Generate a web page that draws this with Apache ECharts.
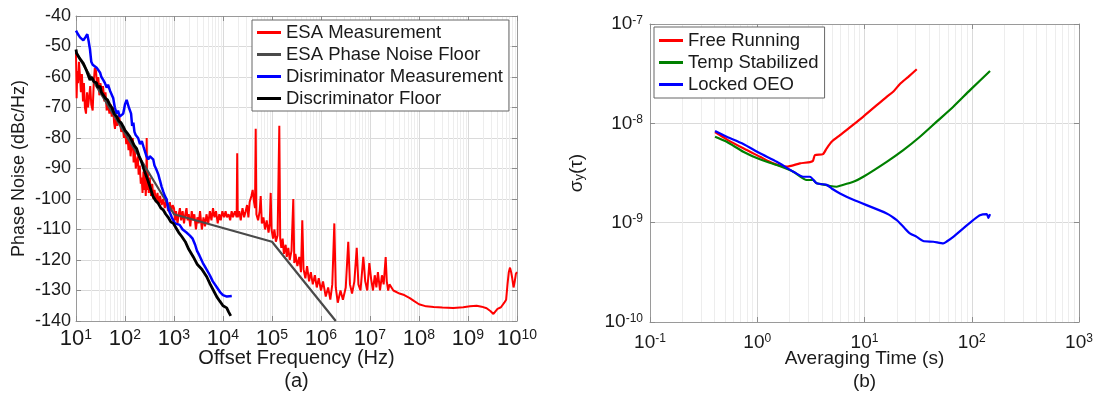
<!DOCTYPE html>
<html>
<head>
<meta charset="utf-8">
<script src="https://cdn.jsdelivr.net/npm/echarts@6/dist/echarts.min.js"></script>
<style>
  html, body { margin: 0; padding: 0; background: #fff; overflow: hidden; }
  #main { width: 1095px; height: 393px; }
</style>
</head>
<body>
<div id="main"></div>
<script>
// (a) phase noise, [offset frequency Hz, dBc/Hz]
const esaMeasurement = [
  [10,-52],[10.3,-67],[10.6,-58],[11,-62],[11.5,-55],[12.1,-60],[12.6,-65],[13.2,-59],[13.9,-68],[14.5,-62],
  [15.2,-70],[16,-72],[16.8,-65],[17.6,-70],[18.7,-66],[19.5,-63],[20.5,-69],[21.9,-71],[23,-62],[24.2,-57],
  [25.6,-58],[27,-63],[28.5,-60],[30,-66],[31.5,-62],[33.5,-65],[35.6,-63],[38,-68],[40,-65],[42.3,-71],
  [45,-68],[48,-72],[51,-69],[53.6,-73],[57,-70],[60,-75],[62.5,-77],[66,-73],[70,-76],[75,-72],
  [79,-75],[84,-78],[90,-76],[95,-80],[100,-77],[106,-82],[112,-79],[118,-84],[124,-80],[130,-86],
  [137,-82],[144,-80],[150,-88],[158,-84],[166,-90],[173,-88],[182,-86],[190,-92],[200,-89],[210,-95],
  [219,-93],[228,-98],[238,-91],[248,-97],[256,-92],[265,-99],[272,-95],[277,-80],[283,-97],[294,-91],
  [305,-98],[320,-93],[340,-99],[360,-95],[380,-100],[400,-97],[430,-101],[460,-98],[490,-102],[520,-99],
  [560,-102],[600,-100],[650,-103],[700,-100],[760,-104],[820,-101],[880,-104],[940,-102],
  [1000,-103],[1050,-107],[1100,-104],[1180,-108],[1250,-105],[1320,-103],[1400,-107],[1500,-104],[1600,-108],[1700,-105],
  [1800,-103],[1900,-107],[2000,-105],[2150,-109],[2300,-104],[2450,-107],[2600,-105],[2800,-110],[3000,-106],[3200,-108],
  [3400,-104],[3700,-110],[4000,-106],[4300,-109],[4600,-105],[5000,-108],[5400,-104],[5800,-107],[6250,-103],[6700,-106],
  [7200,-104],[7800,-108],[8400,-105],[9000,-107],[9700,-104],[1.05e4,-106],[1.13e4,-104],[1.2e4,-106],[1.3e4,-105],[1.4e4,-107],
  [1.5e4,-104],[1.6e4,-106],[1.75e4,-104],[1.9e4,-106],[1.95e4,-85],[2.0e4,-106],[2.15e4,-104],[2.3e4,-107],[2.5e4,-103],[2.7e4,-106],
  [2.9e4,-104],[3.1e4,-102],[3.3e4,-106],[3.5e4,-101],[3.8e4,-99],[4.03e4,-97],[4.3e4,-101],[4.5e4,-103],[4.65e4,-77],[4.8e4,-105],
  [5.2e4,-107],[5.6e4,-104],[5.88e4,-99],[6.2e4,-108],[6.7e4,-106],[7.2e4,-110],[7.8e4,-107],[8.5e4,-111],[9.0e4,-108],[9.4e4,-98],
  [9.8e4,-110],[1.05e5,-113],[1.12e5,-110],[1.2e5,-114],[1.3e5,-112],[1.41e5,-76],[1.47e5,-113],[1.55e5,-116],[1.65e5,-113],[1.75e5,-118],
  [1.9e5,-115],[2.0e5,-119],[2.15e5,-116],[2.3e5,-120],[2.5e5,-117],[2.72e5,-100],[2.85e5,-121],[3.0e5,-118],[3.3e5,-122],[3.6e5,-119],
  [3.9e5,-124],[4.15e5,-107],[4.4e5,-123],[4.8e5,-126],[5.2e5,-122],[5.7e5,-127],[6.2e5,-124],[6.8e5,-128],[7.5e5,-125],[8.2e5,-129],
  [9.0e5,-126],[1e6,-130],[1.1e6,-127],[1.25e6,-132],[1.4e6,-129],[1.55e6,-133],[1.7e6,-128],[1.87e6,-108],[2.0e6,-129],[2.2e6,-134],
  [2.5e6,-130],[2.8e6,-133],[3.2e6,-129],[3.6e6,-114],[3.9e6,-128],[4.3e6,-131],[4.8e6,-127],[5.36e6,-116],[5.8e6,-128],[6.4e6,-130],
  [7.3e6,-119],[8e6,-127],[8.8e6,-130],[9.7e6,-121],[1.05e7,-126],[1.15e7,-130],[1.25e7,-125],[1.35e7,-129],[1.45e7,-124],[1.6e7,-130],
  [1.75e7,-125],[1.9e7,-128],[2.09e7,-119],[2.2e7,-127],[2.35e7,-130],[2.5e7,-128],[3e7,-130],[4e7,-131],[5e7,-131.5],[6.5e7,-132.5],
  [8e7,-133.5],[1e8,-134.5],[1.4e8,-135.2],[2e8,-135.4],[3e8,-135.6],[5e8,-135.7],[8e8,-135.5],[1.1e9,-135.2],[1.5e9,-135],[1.9e9,-135.3],
  [2.4e9,-135.8],[2.9e9,-136.8],[3.3e9,-137.7],[3.6e9,-138],[4e9,-136],[4.7e9,-135.5],[5.5e9,-134],[6e9,-133],[6.4e9,-128],[6.8e9,-124],
  [7.2e9,-122.5],[7.6e9,-124],[8e9,-126],[8.5e9,-129],[9e9,-127],[9.5e9,-124.5],[1e10,-124]
];
const esaFloor = [[10,-52],[1000,-105],[1e5,-114],[2e6,-140]];
const discMeasurement = [
  [10,-44.8],[11,-46],[12.1,-47],[13,-47.5],[14.1,-48],[15.5,-47],[17,-46],[18,-48],[19.3,-51],[20.5,-55],
  [21.9,-56],[24,-56],[26.4,-57],[28.5,-57.5],[30.9,-58.5],[33,-60],[36.1,-61],[39,-62],[42.3,-63.5],[45,-62.5],
  [49.4,-64.5],[53,-65],[57.6,-67],[62,-70],[67.7,-72],[72,-71],[78,-73],[85.2,-73.5],[92,-72],[100,-69],
  [108,-67.5],[115,-68],[120,-70],[126,-70],[133,-72],[140,-76],[148,-75],[156,-78],[165,-79],[173,-79],
  [185,-80],[202,-82],[220,-81],[240,-83],[256,-83],[275,-86],[298,-87],[320,-86],[345,-86.5],[376,-87],
  [400,-89],[441,-90.5],[480,-92],[518,-94],[560,-96],[604,-97.6],[650,-99],[704,-100],[760,-103],[828,-104.6],
  [900,-106],[970,-107],[1050,-108],[1150,-108],[1300,-108.5],[1500,-110],[1800,-111],[2110,-112],[2400,-113],[2700,-115],
  [2950,-117],[3300,-118.5],[3890,-121],[4400,-122.5],[5390,-125],[6200,-127],[7540,-129],[8700,-130.5],[1e4,-131.5],[1.2e4,-132],
  [1.51e4,-131.8]
];
const discFloor = [
  [10,-51],[10.3,-52.2],[11,-52.5],[12,-54],[13,-53.5],[14.1,-55.5],[15,-56],[16.5,-58],[17.5,-57.5],[19.3,-61],
  [21,-60],[23,-61.5],[26.4,-62],[28,-63.5],[31,-63],[33,-65],[36.1,-64.8],[40,-67],[44,-67.5],[49.4,-69.2],
  [54,-70],[60,-72],[67.7,-73],[75,-74.5],[83,-75],[92.3,-76.3],[100,-77.5],[112,-78.5],[126,-79.6],[140,-81],
  [155,-82.5],[173,-83.5],[195,-86],[219,-88],[240,-90],[265,-92],[295,-94],[324,-96],[370,-99],[420,-100.5],
  [480,-101.5],[540,-103],[604,-103.6],[680,-105],[760,-106],[860,-107.5],[968,-108],[1100,-109.5],[1250,-111],[1440,-112.3],
  [1700,-114],[2000,-116.5],[2480,-119],[3000,-121.5],[3700,-123],[4650,-125.5],[5500,-128],[6400,-130],[7430,-132],[8600,-133.5],
  [1e4,-135],[1.19e4,-135.7],[1.3e4,-137],[1.44e4,-138.3]
];

// (b) Allan deviation, [averaging time s, sigma_y]
const freeRunning = [
  [0.404,8.17e-9],[0.519,6.9e-9],[0.741,5.6e-9],[1.06,4.61e-9],[1.41,3.95e-9],[1.88,3.66e-9],[2.5,3.95e-9],[3.1,4.07e-9],
  [3.31,4.2e-9],[3.45,4.79e-9],[4.1,4.9e-9],[4.44,5.6e-9],[4.94,6.53e-9],[5.91,7.6e-9],[9.75,1.17e-8],[16.1,1.85e-8],
  [18.6,2.09e-8],[21.4,2.49e-8],[25.6,2.94e-8],[30.7,3.5e-8]
];
const tempStabilized = [
  [0.404,7.33e-9],[0.519,6.53e-9],[0.741,5.18e-9],[1.06,4.34e-9],[1.52,3.8e-9],[2.17,3.26e-9],[2.89,2.69e-9],[3.31,2.69e-9],
  [3.58,2.49e-9],[4.44,2.39e-9],[4.77,2.34e-9],[5.5,2.3e-9],[5.91,2.35e-9],[7.87,2.58e-9],[9.75,2.9e-9],[16.1,4.1e-9],
  [23,5.38e-9],[32.9,7.33e-9],[47.1,1.04e-8],[67.3,1.47e-8],[96.4,2.16e-8],[148,3.36e-8]
];
const lockedOEO = [
  [0.404,8.37e-9],[0.519,7.33e-9],[0.741,6.19e-9],[1.06,4.99e-9],[1.52,4.1e-9],[2.17,3.26e-9],[2.69,2.9e-9],[3.1,2.9e-9],
  [3.58,2.49e-9],[4.44,2.4e-9],[4.94,2.21e-9],[5.91,1.97e-9],[7.87,1.7e-9],[16.1,1.24e-9],[20,1.06e-9],[23,9.1e-10],
  [26.5,7.8e-10],[30.7,7.2e-10],[35.3,6.53e-10],[43.8,6.43e-10],[54.3,6.18e-10],[58.4,6.46e-10],[67.3,7.2e-10],[83.4,8.77e-10],
  [103,1.06e-9],[119,1.19e-9],[138,1.22e-9],[143,1.12e-9],[148,1.22e-9]
];

const legendA = ['ESA Measurement', 'ESA Phase Noise Floor', 'Disriminator Measurement', 'Discriminator Floor'];
const legendB = ['Free Running', 'Temp Stabilized', 'Locked OEO'];

const FONT = 'Liberation Sans, Arial, sans-serif';
const TXT = '#1a1a1a';

// 10^n tick text
function powLabel(v) {
  const e = Math.round(Math.log10(v));
  return '{b|10}{s|' + e + '}';
}
// minor log grid lines at 2..9 of each decade
function minorLines(lo, hi, key) {
  const out = [];
  for (let e = lo; e < hi; e++) {
    for (let m = 2; m <= 9; m++) out.push({ [key]: m * Math.pow(10, e) });
  }
  return out;
}

const chart = echarts.init(document.getElementById('main'));

const tickStyle = { inside: true, length: 5, lineStyle: { color: '#8c8c8c' } };
const lineStyleAxis = { lineStyle: { color: '#9a9a9a', width: 1 } };
const majorGrid = { show: true, lineStyle: { color: '#dadada', width: 1 } };

const option = {
  animation: false,
  backgroundColor: '#fff',
  textStyle: { fontFamily: FONT },
  grid: [
    { left: 76, top: 16, width: 441, height: 305, outerBoundsMode: 'none', containLabel: false },
    { left: 650, top: 24, width: 429, height: 298, outerBoundsMode: 'none', containLabel: false }
  ],
  legend: [
    {
      data: legendA, left: 252, top: 20, orient: 'vertical', selectedMode: false, z: 10,
      icon: 'rect', itemWidth: 24, itemHeight: 3, itemGap: 3, padding: [3, 6, 3, 5],
      borderColor: '#666', borderWidth: 1, backgroundColor: '#fff',
      textStyle: { fontSize: 18.5, lineHeight: 19, color: TXT, fontFamily: FONT }
    },
    {
      data: legendB, left: 654, top: 27, orient: 'vertical', selectedMode: false, z: 10,
      icon: 'rect', itemWidth: 24, itemHeight: 3, itemGap: 3, padding: [4, 6, 4, 5],
      borderColor: '#666', borderWidth: 1, backgroundColor: '#fff',
      textStyle: { fontSize: 18.5, lineHeight: 19, color: TXT, fontFamily: FONT }
    }
  ],
  xAxis: [
    {
      type: 'log', gridIndex: 0, logBase: 10, min: 10, max: 1e10, splitNumber: 9,
      axisLine: lineStyleAxis, axisTick: tickStyle, splitLine: majorGrid,
      axisLabel: {
        margin: 7, color: TXT, formatter: powLabel,
        rich: { b: { fontSize: 22, color: TXT, fontFamily: FONT }, s: { fontSize: 14, color: TXT, verticalAlign: 'top', fontFamily: FONT } }
      },
      name: 'Offset Frequency (Hz)\n(a)', nameLocation: 'middle', nameGap: 26, nameMoveOverlap: false,
      nameTextStyle: { fontSize: 20, color: TXT, lineHeight: 23, fontFamily: FONT }
    },
    {
      type: 'log', gridIndex: 1, logBase: 10, min: 0.1, max: 1000, splitNumber: 4,
      axisLine: lineStyleAxis, axisTick: tickStyle, splitLine: majorGrid,
      axisLabel: {
        margin: 11, color: TXT, formatter: powLabel,
        rich: { b: { fontSize: 19, color: TXT, fontFamily: FONT }, s: { fontSize: 12, color: TXT, verticalAlign: 'top', fontFamily: FONT } }
      },
      name: 'Averaging Time (s)\n(b)', nameLocation: 'middle', nameGap: 25, nameMoveOverlap: false,
      nameTextStyle: { fontSize: 19, color: TXT, lineHeight: 23, fontFamily: FONT }
    },
    {
      type: 'log', gridIndex: 0, position: 'top', logBase: 10, min: 10, max: 1e10, splitNumber: 9,
      axisLine: lineStyleAxis, axisTick: tickStyle, axisLabel: { show: false }, splitLine: { show: false }
    },
    {
      type: 'log', gridIndex: 1, position: 'top', logBase: 10, min: 0.1, max: 1000, splitNumber: 4,
      axisLine: lineStyleAxis, axisTick: tickStyle, axisLabel: { show: false }, splitLine: { show: false }
    }
  ],
  yAxis: [
    {
      type: 'value', gridIndex: 0, min: -140, max: -40, interval: 10,
      axisLine: { show: true, lineStyle: { color: '#9a9a9a' } }, axisTick: { show: true, inside: true, length: 5, lineStyle: { color: '#8c8c8c' } },
      splitLine: majorGrid,
      axisLabel: { margin: 5, fontSize: 18, color: TXT, fontFamily: FONT },
      name: 'Phase Noise (dBc/Hz)', nameLocation: 'middle', nameGap: 48, nameMoveOverlap: false,
      nameTextStyle: { fontSize: 18, color: TXT, fontFamily: FONT }
    },
    {
      type: 'log', gridIndex: 1, logBase: 10, min: 1e-10, max: 1e-7, splitNumber: 3,
      axisLine: { show: true, lineStyle: { color: '#9a9a9a' } }, axisTick: { show: true, inside: true, length: 5, lineStyle: { color: '#8c8c8c' } },
      splitLine: majorGrid,
      axisLabel: {
        margin: 7, color: TXT, formatter: powLabel,
        rich: { b: { fontSize: 19, color: TXT, fontFamily: FONT }, s: { fontSize: 12, color: TXT, verticalAlign: 'top', fontFamily: FONT } }
      },
      name: '{a|σ}{y|y}{a|(τ)}', nameLocation: 'middle', nameGap: 64, nameMoveOverlap: false,
      nameTextStyle: {
        color: TXT,
        rich: { a: { fontSize: 19, color: TXT, fontFamily: FONT }, y: { fontSize: 13, color: TXT, verticalAlign: 'bottom', fontFamily: FONT } }
      }
    },
    {
      type: 'value', gridIndex: 0, position: 'right', min: -140, max: -40, interval: 10,
      axisLine: { show: true, lineStyle: { color: '#9a9a9a' } }, axisTick: { show: true, inside: true, length: 5, lineStyle: { color: '#8c8c8c' } },
      axisLabel: { show: false }, splitLine: { show: false }
    },
    {
      type: 'log', gridIndex: 1, position: 'right', logBase: 10, min: 1e-10, max: 1e-7, splitNumber: 3,
      axisLine: { show: true, lineStyle: { color: '#9a9a9a' } }, axisTick: { show: true, inside: true, length: 5, lineStyle: { color: '#8c8c8c' } },
      axisLabel: { show: false }, splitLine: { show: false }
    }
  ],
  series: [
    // minor grid lines, kept under the curves
    {
      type: 'line', xAxisIndex: 0, yAxisIndex: 0, data: [], z: 0, silent: true,
      markLine: {
        z: 0, silent: true, symbol: ['none', 'none'], label: { show: false }, animation: false,
        lineStyle: { color: '#ededed', type: 'solid', width: 1 },
        data: minorLines(1, 10, 'xAxis')
      }
    },
    {
      type: 'line', xAxisIndex: 1, yAxisIndex: 1, data: [], z: 0, silent: true,
      markLine: {
        z: 0, silent: true, symbol: ['none', 'none'], label: { show: false }, animation: false,
        lineStyle: { color: '#ededed', type: 'solid', width: 1 },
        data: minorLines(-1, 3, 'xAxis').concat(minorLines(-10, -7, 'yAxis'))
      }
    },
    {
      name: 'ESA Measurement', type: 'line', xAxisIndex: 0, yAxisIndex: 0, data: esaMeasurement,
      showSymbol: false, symbol: 'none', color: '#ff0000', lineStyle: { width: 2 }, z: 2
    },
    {
      name: 'ESA Phase Noise Floor', type: 'line', xAxisIndex: 0, yAxisIndex: 0, data: esaFloor,
      showSymbol: false, symbol: 'none', color: '#4a4a4a', lineStyle: { width: 2.2 }, z: 3
    },
    {
      name: 'Disriminator Measurement', type: 'line', xAxisIndex: 0, yAxisIndex: 0, data: discMeasurement,
      showSymbol: false, symbol: 'none', color: '#0000ff', lineStyle: { width: 2.5 }, z: 4
    },
    {
      name: 'Discriminator Floor', type: 'line', xAxisIndex: 0, yAxisIndex: 0, data: discFloor,
      showSymbol: false, symbol: 'none', color: '#000000', lineStyle: { width: 2.8 }, z: 5
    },
    {
      name: 'Free Running', type: 'line', xAxisIndex: 1, yAxisIndex: 1, data: freeRunning,
      showSymbol: false, symbol: 'none', smooth: 0.2, color: '#ff0000', lineStyle: { width: 2.2 }, z: 3
    },
    {
      name: 'Temp Stabilized', type: 'line', xAxisIndex: 1, yAxisIndex: 1, data: tempStabilized,
      showSymbol: false, symbol: 'none', smooth: 0.2, color: '#008000', lineStyle: { width: 2.2 }, z: 3
    },
    {
      name: 'Locked OEO', type: 'line', xAxisIndex: 1, yAxisIndex: 1, data: lockedOEO,
      showSymbol: false, symbol: 'none', smooth: 0.2, color: '#0000ff', lineStyle: { width: 2.2 }, z: 3
    }
  ]
};

chart.setOption(option);
</script>
</body>
</html>
